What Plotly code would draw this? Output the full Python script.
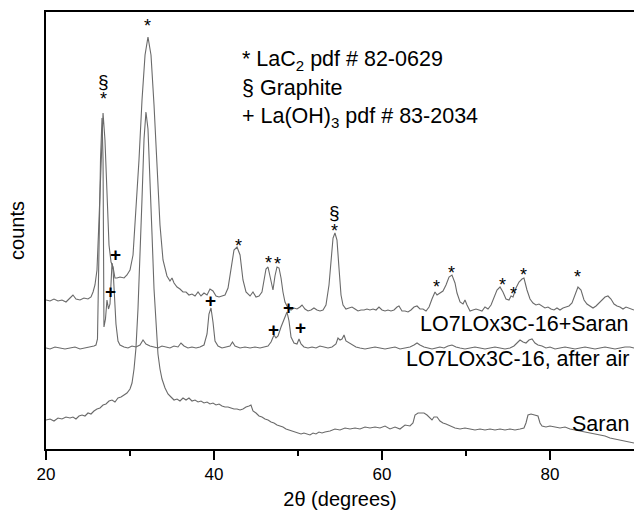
import plotly.graph_objects as go

# ---- data (2theta in degrees, counts in arbitrary units) ----
saranc_x = [20.00, 20.48, 20.95, 21.43, 21.90, 22.38, 22.86, 23.21, 23.57, 24.05, 24.52, 25.00, 25.36, 25.60, 25.83,
            26.07, 26.31, 26.55, 26.79, 27.02, 27.26, 27.50, 27.74, 27.98, 28.21, 28.45, 28.81, 29.29, 29.64, 30.00,
            30.36, 30.71, 31.07, 31.43, 31.79, 32.14, 32.50, 32.86, 33.21, 33.57, 33.93, 34.17, 34.40, 34.76, 35.00,
            35.24, 35.60, 35.95, 36.31, 36.67, 37.02, 37.38, 37.74, 38.10, 38.45, 38.81, 39.17, 39.52, 39.88, 40.24,
            40.60, 40.95, 41.31, 41.67, 42.02, 42.38, 42.74, 43.10, 43.45, 43.81, 44.29, 44.64, 45.00, 45.36, 45.71,
            45.95, 46.19, 46.43, 46.67, 46.90, 47.02, 47.26, 47.50, 47.74, 47.98, 48.21, 48.45, 48.81, 49.17, 49.52,
            49.88, 50.24, 50.48, 50.83, 51.19, 51.55, 51.90, 52.26, 52.62, 52.98, 53.33, 53.69, 53.93, 54.17, 54.40,
            54.64, 54.88, 55.12, 55.36, 55.71, 56.07, 56.43, 56.79, 57.14, 57.50, 57.86, 58.21, 58.57, 58.93, 59.29,
            59.64, 60.00, 60.36, 60.71, 61.07, 61.43, 61.79, 62.02, 62.38, 62.74, 63.10, 63.45, 63.81, 64.17, 64.52,
            64.88, 65.24, 65.60, 65.95, 66.31, 66.55, 66.90, 67.26, 67.62, 67.98, 68.33, 68.69, 68.93, 69.29, 69.64,
            69.88, 70.12, 70.48, 70.83, 71.19, 71.55, 71.90, 72.26, 72.62, 72.98, 73.33, 73.69, 74.05, 74.40, 74.76,
            75.12, 75.36, 75.60, 75.95, 76.31, 76.67, 76.90, 77.26, 77.62, 77.98, 78.33, 78.69, 79.05, 79.40, 79.76,
            80.12, 80.48, 80.83, 81.19, 81.55, 81.90, 82.26, 82.62, 82.98, 83.33, 83.69, 84.05, 84.40, 84.76, 85.12,
            85.48, 85.83, 86.19, 86.55, 86.90, 87.26, 87.62, 87.98, 88.33, 88.69, 89.05, 89.40, 90.00]
saranc_y = [149, 148, 150, 148, 149, 147, 151, 154, 150, 149, 151, 150, 152, 157, 164,
            179, 229, 289, 336, 309, 249, 204, 187, 182, 171, 171, 172, 171, 174, 179,
            194, 239, 289, 349, 394, 412, 394, 344, 279, 224, 189, 179, 173, 168, 171,
            166, 162, 160, 157, 157, 154, 155, 153, 157, 153, 156, 154, 160, 158, 153,
            152, 153, 154, 161, 181, 199, 202, 194, 169, 157, 153, 157, 152, 153, 157,
            167, 180, 182, 173, 161, 159, 173, 182, 181, 171, 157, 147, 141, 139, 141,
            140, 142, 144, 140, 138, 139, 141, 139, 138, 139, 144, 164, 189, 211, 216,
            209, 181, 154, 144, 140, 141, 142, 140, 138, 139, 139, 140, 139, 140, 139,
            142, 139, 138, 139, 138, 139, 142, 143, 138, 138, 137, 139, 142, 143, 140,
            140, 138, 142, 150, 157, 154, 156, 158, 164, 172, 174, 166, 156, 147, 145,
            149, 144, 138, 139, 140, 139, 138, 142, 140, 144, 152, 159, 162, 157, 150,
            149, 153, 152, 161, 167, 170, 171, 159, 150, 146, 144, 145, 143, 141, 142,
            140, 139, 141, 139, 141, 142, 143, 146, 154, 162, 159, 149, 145, 143, 141,
            143, 146, 149, 152, 153, 150, 145, 143, 142, 140, 142, 141, 139]

air_x = [20.00, 20.48, 21.07, 21.67, 22.26, 22.86, 23.45, 24.05, 24.64, 25.24, 25.71, 25.95, 26.13, 26.31, 26.49,
         26.67, 26.79, 26.90, 27.08, 27.26, 27.44, 27.62, 27.86, 27.98, 28.15, 28.33, 28.57, 28.81, 29.29, 29.76,
         30.24, 30.71, 31.19, 31.55, 31.90, 32.38, 32.86, 33.33, 33.81, 34.29, 34.76, 35.24, 35.71, 36.07, 36.43,
         36.90, 37.38, 37.86, 38.33, 38.81, 39.17, 39.40, 39.64, 39.88, 40.12, 40.48, 40.95, 41.43, 41.90, 42.20,
         42.50, 43.10, 43.69, 44.29, 44.88, 45.48, 46.07, 46.43, 46.79, 47.14, 47.38, 47.62, 47.98, 48.33, 48.69,
         48.93, 49.17, 49.52, 49.88, 50.12, 50.36, 50.71, 51.19, 51.67, 52.14, 52.62, 53.10, 53.57, 54.05, 54.52,
         54.76, 55.00, 55.24, 55.48, 55.71, 56.07, 56.43, 56.90, 57.38, 57.98, 58.57, 59.17, 59.76, 60.36, 60.95,
         61.55, 62.14, 62.74, 63.33, 63.81, 64.17, 64.52, 65.00, 65.48, 65.95, 66.43, 66.90, 67.38, 67.86, 68.33,
         68.81, 69.29, 69.88, 70.48, 71.07, 71.67, 72.26, 72.86, 73.45, 74.05, 74.64, 75.24, 75.71, 76.07, 76.43,
         76.79, 77.14, 77.50, 77.86, 78.21, 78.57, 79.05, 79.52, 80.00, 80.60, 81.19, 81.79, 82.38, 82.98, 83.57,
         84.17, 84.76, 85.36, 85.95, 86.55, 87.14, 87.74, 88.33, 88.93, 89.52, 90.00]
air_y = [101, 100, 102, 101, 100, 101, 102, 100, 101, 102, 103, 104, 110, 200, 290,
         331, 290, 122, 130, 149, 140, 145, 186, 180, 150, 125, 108, 104, 102, 101,
         103, 102, 104, 109, 105, 103, 102, 101, 103, 102, 101, 103, 102, 106, 103,
         101, 102, 101, 102, 104, 115, 135, 141, 127, 108, 103, 101, 102, 103, 107,
         103, 101, 102, 101, 102, 101, 102, 103, 107, 114, 111, 113, 122, 130, 137,
         128, 112, 106, 105, 110, 105, 102, 101, 102, 101, 103, 102, 101, 102, 105,
         111, 109, 110, 114, 108, 106, 104, 102, 101, 100, 101, 102, 101, 100, 101,
         102, 100, 101, 102, 104, 106, 104, 102, 101, 100, 101, 102, 101, 103, 104,
         102, 101, 100, 101, 102, 101, 100, 101, 102, 101, 100, 101, 103, 106, 109,
         107, 106, 109, 110, 106, 104, 103, 101, 102, 100, 101, 102, 101, 100, 101,
         102, 101, 100, 101, 102, 101, 100, 101, 102, 102, 101]

saran_x = [20.00, 20.48, 20.95, 21.43, 21.90, 22.38, 22.86, 23.21, 23.57, 23.93, 24.29, 24.64, 25.00, 25.36, 25.71,
           26.07, 26.43, 26.79, 27.14, 27.50, 27.86, 28.21, 28.57, 28.93, 29.29, 29.64, 30.00, 30.24, 30.48, 30.71,
           30.95, 31.19, 31.43, 31.67, 31.90, 32.14, 32.38, 32.62, 32.86, 33.10, 33.33, 33.57, 33.81, 34.17, 34.52,
           34.88, 35.24, 35.60, 35.95, 36.31, 36.67, 37.02, 37.38, 37.74, 38.10, 38.45, 38.81, 39.17, 39.52, 39.88,
           40.24, 40.60, 40.95, 41.31, 41.67, 42.02, 42.38, 42.74, 43.10, 43.45, 43.81, 44.17, 44.40, 44.64, 45.00,
           45.36, 45.71, 46.07, 46.43, 46.79, 47.14, 47.50, 47.86, 48.21, 48.57, 48.93, 49.29, 49.64, 50.00, 50.36,
           50.71, 51.07, 51.43, 51.79, 52.14, 52.50, 52.86, 53.21, 53.81, 54.40, 55.00, 55.60, 56.19, 56.79, 57.38,
           57.98, 58.57, 59.17, 59.76, 60.36, 60.95, 61.55, 62.14, 62.74, 63.33, 63.69, 63.93, 64.29, 64.64, 65.00,
           65.36, 65.71, 65.95, 66.19, 66.55, 66.90, 67.26, 67.62, 68.10, 68.69, 69.29, 69.88, 70.48, 71.07, 71.67,
           72.26, 72.86, 73.45, 74.05, 74.64, 75.24, 75.83, 76.43, 76.90, 77.14, 77.38, 77.74, 78.21, 78.57, 78.81,
           79.05, 79.52, 80.00, 80.60, 81.19, 81.79, 82.38, 82.98, 83.57, 84.17, 84.76, 85.36, 85.95, 86.55, 87.14,
           87.74, 88.33, 88.93, 89.52, 90.00]
saran_y = [29, 30, 28, 31, 30, 32, 31, 32, 30, 33, 34, 33, 36, 35, 38,
           40, 41, 44, 45, 48, 49, 47, 51, 52, 54, 56, 60, 66, 80, 101,
           140, 190, 250, 310, 337, 320, 275, 215, 160, 120, 95, 80, 70, 61, 55,
           52, 49, 50, 48, 51, 49, 51, 48, 49, 47, 48, 46, 47, 45, 46,
           44, 45, 43, 42, 42, 41, 40, 40, 39, 40, 42, 43, 44, 38, 36,
           33, 32, 30, 29, 27, 26, 24, 23, 22, 20, 19, 18, 17, 16, 15,
           16, 15, 14, 16, 15, 17, 16, 17, 18, 20, 19, 21, 20, 21, 20,
           22, 21, 22, 21, 23, 20, 22, 20, 24, 23, 26, 34, 36, 36, 36,
           34, 31, 29, 32, 32, 28, 26, 25, 23, 21, 20, 21, 20, 19, 20,
           19, 20, 19, 20, 19, 20, 19, 20, 21, 26, 34, 35, 34, 33, 26,
           23, 22, 23, 22, 21, 22, 20, 19, 18, 17, 16, 15, 14, 13, 11,
           10, 9, 8, 7, 6]

series_names = ["LO7LOx3C-16+Saran", "LO7LOx3C-16, after air", "Saran"]

# peak markers: (symbol, 2theta, counts)
peak_marks = [
    ("§", 26.9, 367), ("*", 26.9, 354), ("*", 32.1, 427),
    ("+", 28.33, 195), ("+", 27.62, 158),
    ("*", 42.86, 207), ("*", 46.43, 190), ("*", 47.5, 189),
    ("§", 54.4, 236), ("*", 54.4, 222),
    ("+", 39.64, 149), ("+", 47.14, 120), ("+", 48.81, 142), ("+", 50.24, 122),
    ("*", 66.43, 166), ("*", 68.33, 180), ("*", 74.29, 168), ("*", 75.6, 159),
    ("*", 76.79, 178), ("*", 83.33, 176),
]

key_lines = ["* LaC<sub>2</sub> pdf # 82-0629", "§ Graphite", "+ La(OH)<sub>3</sub> pdf # 83-2034"]

FONT = "Liberation Sans, Arial, sans-serif"
LINE = "#6a6a6a"

fig = go.Figure()
for xs, ys, nm in [(saranc_x, saranc_y, series_names[0]), (air_x, air_y, series_names[1]),
                   (saran_x, saran_y, series_names[2])]:
    fig.add_trace(go.Scatter(x=xs, y=ys, mode="lines", name=nm,
                             line=dict(color=LINE, width=1.1), showlegend=False, hoverinfo="skip"))

ann = []
for sym, xv, yv in peak_marks:
    if sym == "*":
        ann.append(dict(x=xv, y=yv, text="*", showarrow=False, xref="x", yref="y",
                        font=dict(family=FONT, size=18, color="black"), yshift=-4))
    elif sym == "+":
        ann.append(dict(x=xv, y=yv, text="<b>+</b>", showarrow=False, xref="x", yref="y",
                        font=dict(family=FONT, size=19, color="black")))
    else:
        ann.append(dict(x=xv, y=yv, text="§", showarrow=False, xref="x", yref="y",
                        font=dict(family=FONT, size=19, color="black"), yshift=1))

key_y = [389, 361, 332]
for t, yv in zip(key_lines, key_y):
    ann.append(dict(x=43.1, y=yv, text=t, showarrow=False, xref="x", yref="y", xanchor="left",
                    font=dict(family=FONT, size=21.5, color="black")))

label_y = [125, 90, 25]
for t, yv in zip(series_names, label_y):
    ann.append(dict(x=89.6, y=yv, text=t, showarrow=False, xref="x", yref="y", xanchor="right",
                    font=dict(family=FONT, size=21.5, color="black")))

fig.update_layout(
    width=635, height=510,
    margin=dict(l=46, r=1, t=12, b=61),
    paper_bgcolor="white", plot_bgcolor="white",
    annotations=ann,
    font=dict(family=FONT, color="black"),
    xaxis=dict(range=[20, 90], showline=True, linecolor="black", linewidth=2, mirror=True,
               showgrid=False, zeroline=False,
               tickvals=[20, 40, 60, 80], ticks="outside", ticklen=9, tickwidth=1.5, tickcolor="black",
               tickfont=dict(family=FONT, size=17),
               minor=dict(tickvals=[30, 50, 70], ticks="outside", ticklen=5, tickwidth=1.5, tickcolor="black"),
               title=dict(text="2θ (degrees)", font=dict(family=FONT, size=20), standoff=9)),
    yaxis=dict(range=[0, 437], showline=True, linecolor="black", linewidth=2,
               showgrid=False, zeroline=False, showticklabels=False, ticks="",
               title=dict(text="counts", font=dict(family=FONT, size=20), standoff=14)),
)

fig.write_html("out.html", config={"displayModeBar": False},
               post_script="document.body.style.margin='0px';")
